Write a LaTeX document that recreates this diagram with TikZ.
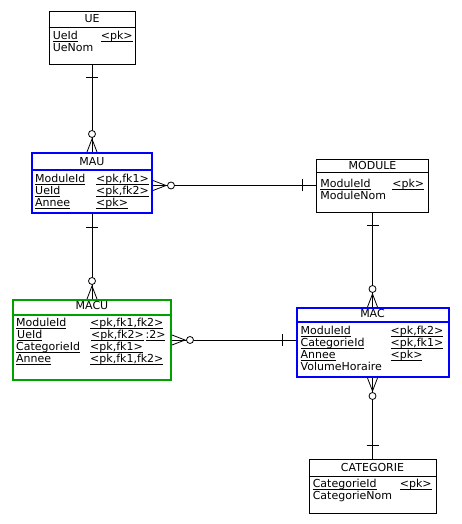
\documentclass[tikz,border=0pt]{standalone}
\usepackage{fontspec}
\setmainfont{DejaVu Sans}
\usetikzlibrary{calc}
\definecolor{entblue}{RGB}{0,0,255}
\definecolor{entgreen}{RGB}{0,160,0}
\newcommand\ulx[1]{\setbox0=\hbox{#1}\rlap{\rule[-2.2pt]{\wd0}{0.7pt}}\box0}
\begin{document}
\begin{tikzpicture}[x=1pt,y=1pt,
  ent/.style={draw=black,line width=0.8pt,fill=white,inner sep=0pt,rectangle},
  entb/.style={ent,draw=entblue,line width=2pt},
  entg/.style={ent,draw=entgreen,line width=2pt},
  sepk/.style={draw=black,line width=0.8pt},
  sepb/.style={draw=entblue,line width=1.2pt},
  sepg/.style={draw=entgreen,line width=1.2pt},
  txt/.style={anchor=base west,inner sep=0pt,font=\fontsize{11}{13}\selectfont},
  ttl/.style={anchor=base,inner sep=0pt,font=\fontsize{11}{13}\selectfont},
  conn/.style={draw=black,line width=0.8pt},
  crow/.pic={\draw[conn] (-5,0) -- (0,13) -- (5,0);
             \draw[conn,fill=white] (0,18) circle (3.5pt);},
  one/.pic={\draw[conn] (-6,13.5) -- (6,13.5);}
]
\useasboundingbox (0,0) rectangle (461,524);
\fill[white] (0,0) rectangle (461,524);

% ---- entities ----
\node[ent,minimum width=86pt,minimum height=53pt] (UE) at (92,486.5) {};
\node[entb,minimum width=120pt,minimum height=60pt] (MAU) at (92,341) {};
\node[ent,minimum width=112pt,minimum height=53pt] (MODULE) at (372.5,338.5) {};
\node[entb,minimum width=152pt,minimum height=69pt] (MAC) at (372.5,181.5) {};
\node[entg,minimum width=158pt,minimum height=80pt] (MACU) at (92,184) {};
\node[ent,minimum width=127pt,minimum height=54pt] (CATEGORIE) at (372.5,38) {};

% ---- header separators ----
\draw[sepk] ($(UE.north west)+(0,-17)$) -- ($(UE.north east)+(0,-17)$);
\draw[sepb] ($(MAU.north west)+(0,-18)$) -- ($(MAU.north east)+(0,-18)$);
\draw[sepk] ($(MODULE.north west)+(0,-14)$) -- ($(MODULE.north east)+(0,-14)$);
\draw[sepb] ($(MAC.north west)+(0,-15)$) -- ($(MAC.north east)+(0,-15)$);
\draw[sepg] ($(MACU.north west)+(0,-16)$) -- ($(MACU.north east)+(0,-16)$);
\draw[sepk] ($(CATEGORIE.north west)+(0,-18)$) -- ($(CATEGORIE.north east)+(0,-18)$);

% ---- UE ----
\node[ttl] (UE-t) at ($(UE.north)+(0,-12)$) {UE};
\node[txt] (UE-n1) at ($(UE.north west)+(4,-29)$) {\ulx{UeId}};
\node[txt] (UE-k1) at ($(UE.north west)+(52,-29)$) {\ulx{<pk>}};
\node[txt] (UE-n2) at ($(UE.north west)+(4,-41)$) {UeNom};

% ---- MAU ----
\node[ttl] (MAU-t) at ($(MAU.north)+(0,-14)$) {MAU};
\node[txt] (MAU-n1) at ($(MAU.north west)+(4,-31)$) {\ulx{ModuleId}};
\node[txt] (MAU-k1) at ($(MAU.north west)+(65,-31)$) {\ulx{<pk,fk1>}};
\node[txt] (MAU-n2) at ($(MAU.north west)+(4,-43)$) {\ulx{UeId}};
\node[txt] (MAU-k2) at ($(MAU.north west)+(65,-43)$) {\ulx{<pk,fk2>}};
\node[txt] (MAU-n3) at ($(MAU.north west)+(4,-55)$) {\ulx{Annee}};
\node[txt] (MAU-k3) at ($(MAU.north west)+(65,-55)$) {\ulx{<pk>}};

% ---- MODULE ----
\node[ttl] (MODULE-t) at ($(MODULE.north)+(0,-11)$) {MODULE};
\node[txt] (MODULE-n1) at ($(MODULE.north west)+(4,-29)$) {\ulx{ModuleId}};
\node[txt] (MODULE-k1) at ($(MODULE.north west)+(76,-29)$) {\ulx{<pk>}};
\node[txt] (MODULE-n2) at ($(MODULE.north west)+(4,-41)$) {ModuleNom};

% ---- MAC ----
\node[ttl] (MAC-t) at ($(MAC.north)+(0,-11)$) {MAC};
\node[txt] (MAC-n1) at ($(MAC.north west)+(5,-28)$) {\ulx{ModuleId}};
\node[txt] (MAC-k1) at ($(MAC.north west)+(95,-28)$) {\ulx{<pk,fk2>}};
\node[txt] (MAC-n2) at ($(MAC.north west)+(5,-40)$) {\ulx{CategorieId}};
\node[txt] (MAC-k2) at ($(MAC.north west)+(95,-40)$) {\ulx{<pk,fk1>}};
\node[txt] (MAC-n3) at ($(MAC.north west)+(5,-52)$) {\ulx{Annee}};
\node[txt] (MAC-k3) at ($(MAC.north west)+(95,-52)$) {\ulx{<pk>}};
\node[txt] (MAC-n4) at ($(MAC.north west)+(5,-64)$) {VolumeHoraire};

% ---- MACU ----
\node[ttl] (MACU-t) at ($(MACU.north)+(0,-11)$) {MACU};
\node[txt] (MACU-n1) at ($(MACU.north west)+(4,-28)$) {\ulx{ModuleId}};
\node[txt] (MACU-k1) at ($(MACU.north west)+(78,-28)$) {\ulx{<pk,fk1,fk2>}};
\node[txt] (MACU-n2) at ($(MACU.north west)+(5,-40)$) {\ulx{UeId}};
\node[txt] (MACU-k2) at ($(MACU.north west)+(79,-40)$) {\ulx{<pk,fk2>}\,\ulx{:2>}};
\node[txt] (MACU-n3) at ($(MACU.north west)+(4,-52)$) {\ulx{CategorieId}};
\node[txt] (MACU-k3) at ($(MACU.north west)+(78,-52)$) {\ulx{<pk,fk1>}};
\node[txt] (MACU-n4) at ($(MACU.north west)+(4,-64)$) {\ulx{Annee}};
\node[txt] (MACU-k4) at ($(MACU.north west)+(78,-64)$) {\ulx{<pk,fk1,fk2>}};

% ---- CATEGORIE ----
\node[ttl] (CATEGORIE-t) at ($(CATEGORIE.north)+(0,-13)$) {CATEGORIE};
\node[txt] (CATEGORIE-n1) at ($(CATEGORIE.north west)+(4,-29)$) {\ulx{CategorieId}};
\node[txt] (CATEGORIE-k1) at ($(CATEGORIE.north west)+(91,-29)$) {\ulx{<pk>}};
\node[txt] (CATEGORIE-n2) at ($(CATEGORIE.north west)+(4,-41)$) {CategorieNom};

% ---- connectors ----
\draw[conn] (UE.south) -- (MAU.north);
\pic[rotate=180] at (UE.south) {one};
\pic at (MAU.north) {crow};

\draw[conn] (MAU.east |- MODULE.west) -- (MODULE.west);
\pic[rotate=-90] at (MAU.east |- MODULE.west) {crow};
\pic[rotate=90] at (MODULE.west) {one};

\draw[conn] (MAU.south) -- (MACU.north);
\pic[rotate=180] at (MAU.south) {one};
\pic at (MACU.north) {crow};

\draw[conn] (MODULE.south) -- (MAC.north);
\pic[rotate=180] at (MODULE.south) {one};
\pic at (MAC.north) {crow};

\draw[conn] (MACU.east) -- (MACU.east -| MAC.west);
\pic[rotate=-90] at (MACU.east) {crow};
\pic[rotate=90] at (MACU.east -| MAC.west) {one};

\draw[conn] (MAC.south) -- (CATEGORIE.north);
\pic[rotate=180] at (MAC.south) {crow};
\pic at (CATEGORIE.north) {one};
\end{tikzpicture}
\end{document}
